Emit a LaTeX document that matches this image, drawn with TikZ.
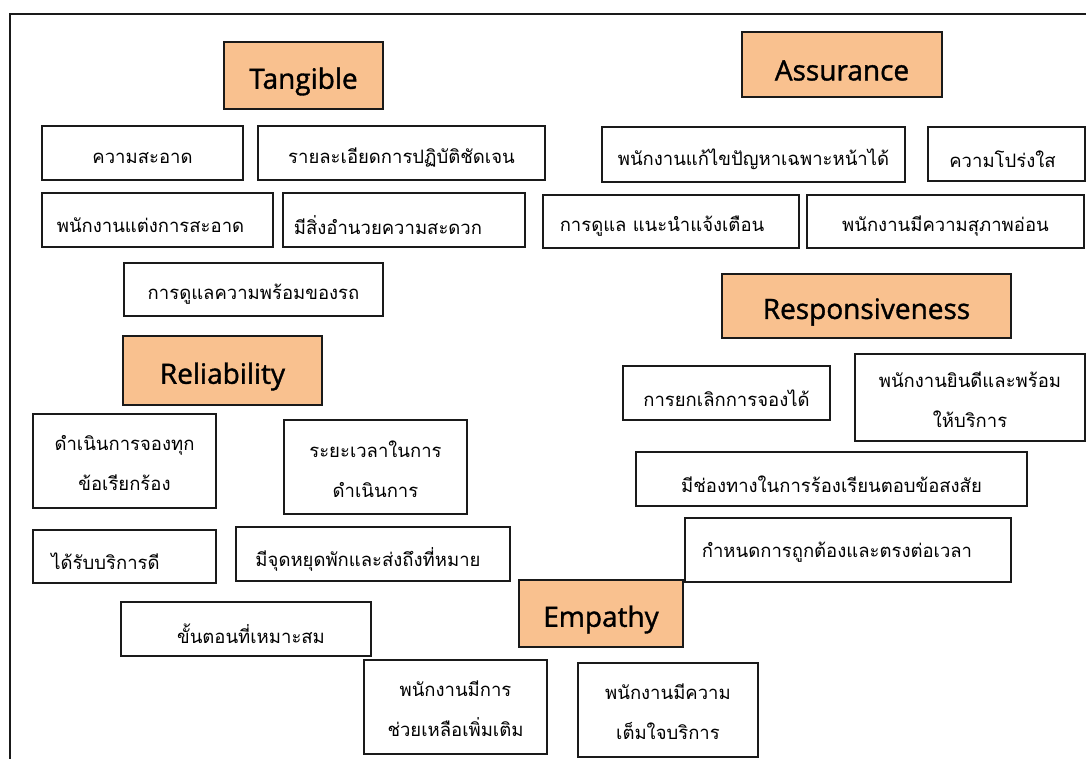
\documentclass[tikz,border=0pt]{standalone}
\usepackage{fontspec}
\setmainfont{Open Sans}
\newfontfamily\thaifont[Script=Thai]{Loma}
\newfontfamily\headfont[FakeBold=1.3]{Open Sans}
\definecolor{peach}{HTML}{F9C18F}
\definecolor{edge}{HTML}{1A1A1A}

% a box given by its corners (x1,y1) and (x2,y2) in pixel units;
% its label is a separate node, placed by the optional first argument
\newcommand{\cellbox}[8][]{%
  \node[#2, minimum width={(#6-#4)*1pt}, minimum height={(#7-#5)*1pt}]
    (#3) at ({(#4+#6)/2},{(#5+#7)/2}) {};
  \node[#2 text, at={(#3.center)}, #1] (#3-text) {#8};}

\begin{document}
\begin{tikzpicture}[x=1pt,y=-1pt,
  itembox/.style={draw=edge, line width=1.6pt, fill=white, inner sep=0pt},
  thinbox/.style={itembox, line width=1.1pt},
  headbox/.style={draw=edge, line width=1.6pt, fill=peach, inner sep=0pt},
  itembox text/.style={inner sep=0pt, align=center, yshift=-5pt,
    font=\fontsize{18.5}{40}\selectfont\thaifont},
  thinbox text/.style={itembox text},
  twolines/.style={yshift=3pt},
  headbox text/.style={inner sep=0pt, yshift=-6pt,
    font=\fontsize{28}{30}\selectfont\headfont}]
\useasboundingbox (0,0) rectangle (1086,758);

% outer frame, running past the right and bottom edges
\coordinate (frameTL) at (10,14);
\coordinate (frameTR) at (1090,14);
\coordinate (frameBL) at (10,762);
\draw[line width=2pt, edge] (frameTR) -- (frameTL) -- (frameBL);

% Tangible
\cellbox{headbox}{tangible}{224}{42}{383}{109}{Tangible}
\cellbox{itembox}{t1}{42}{126}{243}{180}{ความสะอาด}
\cellbox{itembox}{t2}{258}{126}{545}{180}{รายละเอียดการปฏิบัติชัดเจน}
\cellbox[xshift=-7pt]{itembox}{t3}{42}{193}{273}{247}{พนักงานแต่งการสะอาด}
\cellbox[xshift=-16pt]{itembox}{t4}{283}{193}{525}{247}{มีสิ่งอำนวยความสะดวก}
\cellbox{itembox}{t5}{124}{263}{383}{316}{การดูแลความพร้อมของรถ}

% Assurance
\cellbox{headbox}{assurance}{742}{32}{942}{97}{Assurance}
\cellbox{itembox}{a1}{602}{127}{905}{182}{พนักงานแก้ไขปัญหาเฉพาะหน้าได้}
\cellbox[xshift=-4pt]{thinbox}{a2}{928}{127}{1085}{181}{ความโปร่งใส}
\cellbox[xshift=-9pt]{thinbox}{a3}{543}{195}{799}{248}{การดูแล แนะนำแจ้งเตือน}
\cellbox{itembox}{a4}{807}{195}{1084}{248}{พนักงานมีความสุภาพอ่อน}

% Responsiveness
\cellbox{headbox}{respons}{722}{274}{1011}{338}{Responsiveness}
\cellbox{itembox}{r1}{623}{366}{830}{420}{การยกเลิกการจองได้}
\cellbox[twolines]{itembox}{r2}{855}{354}{1085}{441}{พนักงานยินดีและพร้อม\\ให้บริการ}
\cellbox{itembox}{r3}{636}{452}{1027}{506}{มีช่องทางในการร้องเรียนตอบข้อสงสัย}
\cellbox[xshift=-11pt, yshift=3pt]{itembox}{r4}{685}{518}{1011}{582}{กำหนดการถูกต้องและตรงต่อเวลา}

% Reliability
\cellbox{headbox}{reliab}{123}{336}{322}{405}{Reliability}
\cellbox[twolines]{itembox}{l1}{33}{414}{216}{508}{ดำเนินการจองทุก\\ข้อเรียกร้อง}
\cellbox[twolines]{itembox}{l2}{284}{420}{467}{514}{ระยะเวลาในการ\\ดำเนินการ}
\cellbox[at={(l3.west)}, anchor=west, xshift=19pt]{itembox}{l3}{33}{530}{216}{583}{ได้รับบริการดี}
\cellbox[xshift=-5pt]{itembox}{l4}{236}{527}{510}{581}{มีจุดหยุดพักและส่งถึงที่หมาย}
\cellbox[xshift=5pt]{itembox}{l5}{121}{602}{371}{656}{ขั้นตอนที่เหมาะสม}

% Empathy
\cellbox{headbox}{empathy}{519}{580}{683}{647}{Empathy}
\cellbox[twolines]{itembox}{e1}{364}{660}{547}{754}{พนักงานมีการ\\ช่วยเหลือเพิ่มเติม}
\cellbox[twolines]{itembox}{e2}{578}{663}{758}{757}{พนักงานมีความ\\เต็มใจบริการ}
\end{tikzpicture}
\end{document}
